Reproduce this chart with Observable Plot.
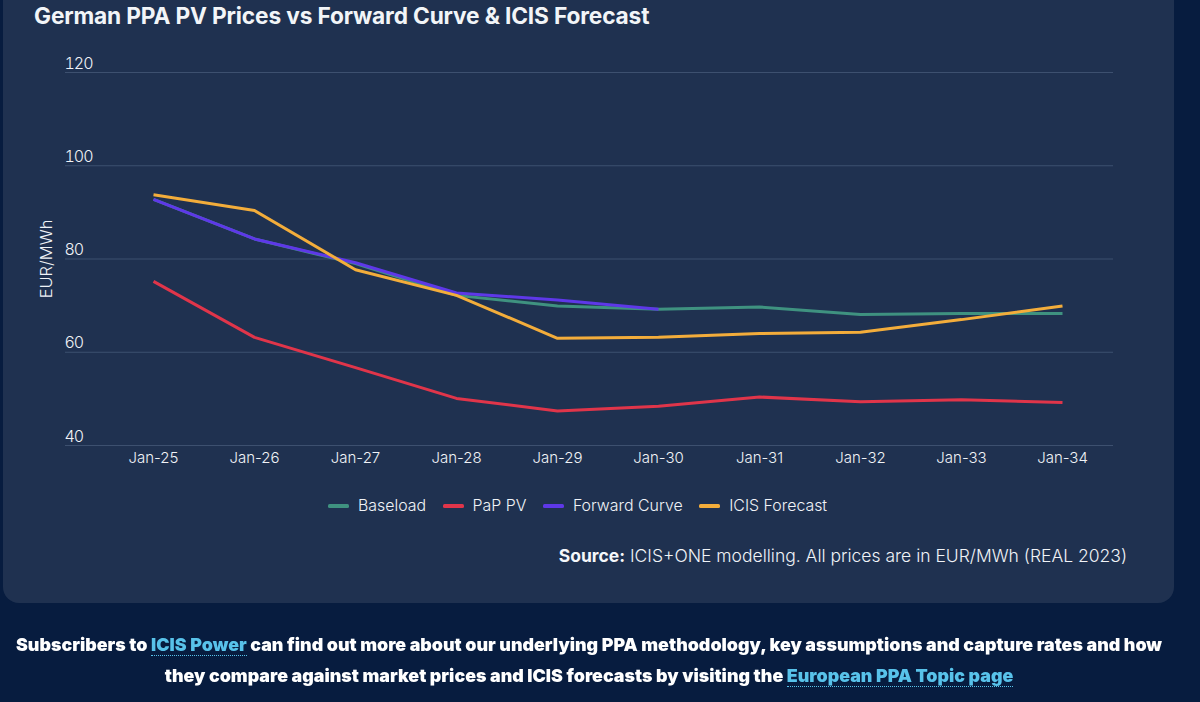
<!DOCTYPE html>
<html>
<head>
<meta charset="utf-8">
<script src="https://cdn.jsdelivr.net/npm/d3@7"></script>
<script src="https://cdn.jsdelivr.net/npm/@observablehq/plot@0.6"></script>
<style>
html,body{margin:0;padding:0;width:1200px;height:702px;overflow:hidden;background:#071c3f;font-family:Inter,sans-serif;color:#f0f3f7}
#panel{position:absolute;left:3px;top:-30px;width:1171px;height:633px;background:#1f3150;border-radius:16px}
#title{position:absolute;left:34px;top:2px;font-size:22.7px;font-weight:700;line-height:28px;color:#f2f5f8;white-space:nowrap;letter-spacing:-.15px}
#chart{position:absolute;left:0;top:40px}
#chart svg [aria-label="y-axis tick label"]{letter-spacing:-1px}
#legend{position:absolute;left:328px;top:496px;display:flex;gap:16.5px;font-size:15.9px;font-weight:300;line-height:20px;white-space:nowrap}
#legend .item{display:flex;align-items:center;gap:9px}
#legend .sw{display:inline-block;width:21px;height:3.5px;border-radius:1.5px}
#source{position:absolute;right:73px;top:545px;font-size:17.5px;font-weight:300;line-height:22px;white-space:nowrap;color:#f0f3f7}
#source b{font-weight:700;color:#f5f7fa}
#foot{position:absolute;left:0;width:1178px;top:629px;text-align:center;font-size:17.85px;line-height:31px;font-weight:900;color:#fff;white-space:nowrap}
#foot a{color:#58c2ea;border-bottom:1px dotted #58c2ea;text-decoration:none}
</style>
</head>
<body>
<div id="panel"></div>
<div id="title">German PPA PV Prices vs Forward Curve &amp; ICIS Forecast</div>
<div id="chart"></div>
<div id="legend"></div>
<div id="source"><b>Source:</b> ICIS+ONE modelling. All prices are in EUR/MWh (REAL 2023)</div>
<div id="foot">Subscribers to <a>ICIS Power</a> can find out more about our underlying PPA methodology, key assumptions and capture rates and how<br>they compare against market prices and ICIS forecasts by visiting the <a>European PPA Topic page</a></div>
<script>
const months = ["Jan-25","Jan-26","Jan-27","Jan-28","Jan-29","Jan-30","Jan-31","Jan-32","Jan-33","Jan-34"];
const baseload = [92.8,84.3,79,72.2,69.9,69.2,69.7,68.1,68.3,68.3];
const papPV = [75.2,63.2,56.7,50.1,47.4,48.4,50.4,49.4,49.8,49.2];
const forwardCurve = [92.8,84.3,79.2,72.7,71.2,69.2];
const icisForecast = [93.8,90.4,77.7,72.2,63,63.2,64,64.3,67,69.9];
const yTicks = [40,60,80,100,120];
const seriesNames = ["Baseload","PaP PV","Forward Curve","ICIS Forecast"];
const seriesColors = ["#3f9280","#e0354a","#5e38e8","#f3ad3b"];
const seriesValues = [baseload,papPV,forwardCurve,icisForecast];

const rows = vals => vals.map((v,i)=>({m:months[i],v}));
const plot = Plot.plot({
  width:1200,height:435,marginLeft:65,marginRight:87,marginTop:32,marginBottom:30,
  style:{background:"transparent",color:"#f0f3f7",fontFamily:"Inter, sans-serif",fontSize:"15px",fontWeight:300},
  x:{type:"point",domain:months,range:[152,1062],padding:0},
  y:{domain:[40,120]},
  marks:[
    Plot.ruleY(yTicks,{stroke:"#3d506f",strokeWidth:1}),
    Plot.axisX({tickSize:0,tickPadding:7,label:null,fontSize:15}),
    Plot.axisY({ticks:yTicks,tickSize:0,tickPadding:0,label:null,textAnchor:"start",dx:-1,dy:-9,fontSize:16}),
    Plot.text(["EUR/MWh"],{frameAnchor:"left",rotate:-90,textAnchor:"middle",dx:-19,fontSize:16.5,fill:"#f0f3f7"}),
    ...seriesValues.map((vals,i)=>Plot.line(rows(vals),{x:"m",y:"v",stroke:seriesColors[i],strokeWidth:3,strokeLinecap:"butt",strokeLinejoin:"miter"}))
  ]
});
document.getElementById("chart").appendChild(plot);
const lg=document.getElementById("legend");
seriesNames.forEach((n,i)=>{
  const d=document.createElement("div");d.className="item";
  d.innerHTML=`<span class="sw" style="background:${seriesColors[i]}"></span><span>${n}</span>`;
  lg.appendChild(d);
});
</script>
</body>
</html>
